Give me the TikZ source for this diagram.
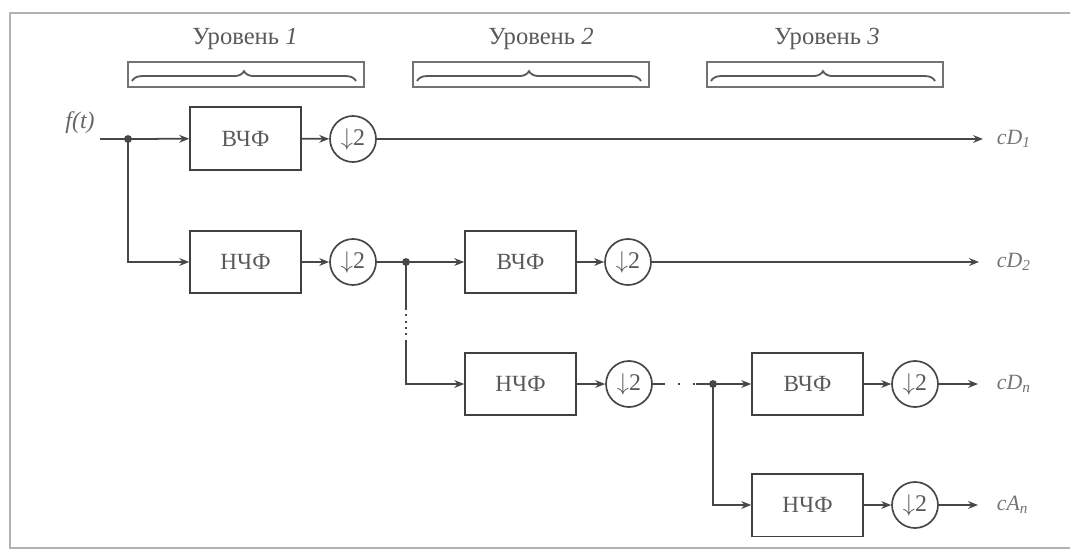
\documentclass[tikz,border=0pt]{standalone}
\usepackage{fontspec}
\setmainfont{Liberation Serif}
\usetikzlibrary{arrows.meta,decorations.pathreplacing}

\begin{document}
\begin{tikzpicture}[x=0.025cm,y=-0.025cm,
	linea/.style={draw=black!72,line width=1.25pt},
	flecha/.style={linea,-{Stealth[length=7pt,width=5.5pt]}},
	filtro/.style={draw=black!75,line width=1.3pt,minimum width=2.77cm,minimum height=1.57cm,
		text=black!65,font=\fontsize{16.5}{18}\selectfont},
	diezm/.style={circle,draw=black!72,line width=1.2pt,minimum size=1.15cm,inner sep=0pt,
		text=black!65,font=\fontsize{17}{18}\selectfont},
	salida/.style={right,text=black!55,font=\fontsize{15.5}{18}\selectfont\itshape},
	nivel/.style={text=black!65,font=\fontsize{17.5}{20}\selectfont}]
	\useasboundingbox (0,0) rectangle (1070,551);
	
	% Marco
	\draw[black!30,line width=1.5pt] (1070,13) -- (10,13) -- (10,548) -- (1070,548);
	
	% Niveles
	\foreach \n/\xi/\xt in {1/128/245, 2/413/541, 3/707/827} {
		\node[nivel] (niv\n) at (\xt,39) {Уровень \textit{\n}};
		\draw[black!55,line width=0.8pt] (\xi,62) rectangle (\xi+236,87);
		\draw[black!65,line width=1.3pt,decorate,
			decoration={brace,amplitude=7pt,aspect=0.5}] (\xi+4,81) -- (\xi+228,81);
	}
	
	% Entrada
	\node[text=black!60,font=\fontsize{17}{18}\selectfont\itshape,anchor=south] (ft) at (80,139) {f(t)};
	\coordinate (x0) at (100,139);
	\coordinate (j1) at (128,139);
	
	% Nivel 1
	\node[filtro] (hp1) at (245.5,138.5) {ВЧФ};
	\node[diezm] (d1) at (353,139) {$\downarrow$2};
	\node[filtro] (lp1) at (245.5,262) {НЧФ};
	\node[diezm] (d2) at (353,262) {$\downarrow$2};
	\coordinate (j2) at (406,262);
	
	% Nivel 2
	\node[filtro] (hp2) at (520.5,262) {ВЧФ};
	\node[diezm] (d3) at (628,262) {$\downarrow$2};
	\node[filtro] (lp2) at (520.5,384) {НЧФ};
	\node[diezm] (d4) at (629,384) {$\downarrow$2};
	\coordinate (g1) at (406,308);
	\coordinate (g2) at (406,340);
	\coordinate (h1) at (663,384);
	\coordinate (h2) at (696,384);
	\coordinate (j3) at (713,384);
	
	% Nivel 3
	\node[filtro] (hp3) at (807.5,384) {ВЧФ};
	\node[diezm] (d5) at (915,384) {$\downarrow$2};
	\node[filtro] (lp3) at (807.5,505) {НЧФ};
	\node[diezm] (d6) at (915,505) {$\downarrow$2};
	
	% Salidas
	\coordinate (o1) at (983,139);
	\coordinate (o2) at (979,262);
	\coordinate (o3) at (978,384);
	\coordinate (o4) at (978,505);
	\node[salida] (cd1) at (992,139) {cD\textsubscript{1}};
	\node[salida] (cd2) at (992,262) {cD\textsubscript{2}};
	\node[salida] (cdn) at (992,384) {cD\textsubscript{n}};
	\node[salida] (can) at (992,505) {cA\textsubscript{n}};
	
	% Conexiones
	\draw[linea] (x0) -- (j1);
	\draw[flecha] (j1) -- (hp1);
	\draw[flecha] (j1) |- (lp1);
	\draw[flecha] (hp1) -- (d1);
	\draw[flecha] (lp1) -- (d2);
	\draw[flecha] (d1) -- (o1);
	\draw[linea] (d2) -- (j2);
	\draw[flecha] (j2) -- (hp2);
	\draw[flecha] (hp2) -- (d3);
	\draw[flecha] (d3) -- (o2);
	\draw[linea] (j2) -- (g1);
	\draw[linea,dash pattern=on 1.5pt off 3pt] (g1) -- (g2);
	\draw[flecha] (g2) |- (lp2);
	\draw[flecha] (lp2) -- (d4);
	\draw[linea] (d4) -- (h1);
	\draw[linea,dash pattern=on 1.5pt off 9pt] (h1) -- (h2);
	\draw[linea] (h2) -- (j3);
	\draw[flecha] (j3) -- (hp3);
	\draw[flecha] (j3) |- (lp3);
	\draw[flecha] (hp3) -- (d5);
	\draw[flecha] (lp3) -- (d6);
	\draw[flecha] (d5) -- (o3);
	\draw[flecha] (d6) -- (o4);
	
	% Nodos de bifurcacion
	\foreach \j in {j1,j2,j3}
		\fill[black!72] (\j) circle (2.8pt);
\end{tikzpicture}
\end{document}
